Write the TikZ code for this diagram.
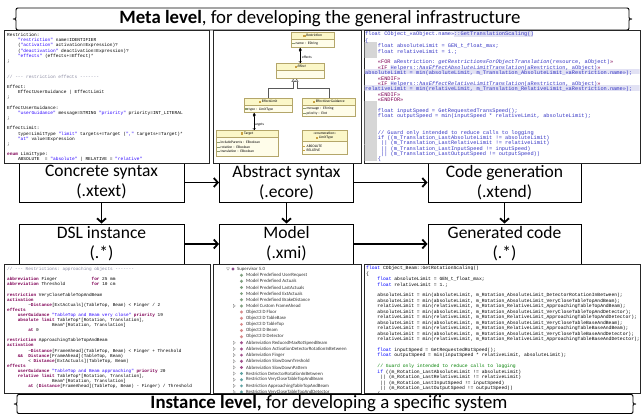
\documentclass[tikz,border=0pt]{standalone}
\usepackage{fontspec}
\setmainfont{Carlito}
\setmonofont{Liberation Mono}
\usepackage{xcolor}
\usepackage{tikz}
\usetikzlibrary{calc,positioning}
\usetikzlibrary{arrows.meta}

\definecolor{kwpurple}{HTML}{7F0055}
\definecolor{strblue}{HTML}{2A00FF}
\definecolor{cmtgray}{HTML}{8A8AA2}
\definecolor{xtdblue}{HTML}{3434C4}
\definecolor{cppblue}{HTML}{0000FF}
\definecolor{cppgreen}{HTML}{008000}
\definecolor{gutter}{HTML}{D6D6D6}
\definecolor{hilite}{HTML}{E2E2F4}
\definecolor{clsline}{HTML}{B4A66A}
\definecolor{clshead}{HTML}{FBF7C8}
\definecolor{clsbody}{HTML}{FFFDEA}
\definecolor{clsicn}{HTML}{C8A040}
\definecolor{atticn}{HTML}{8C9C70}
\definecolor{mdlc}{HTML}{7FA07F}
\definecolor{objc}{HTML}{D88A8A}
\definecolor{abbc}{HTML}{A0508C}
\definecolor{resc}{HTML}{5FA3A3}
\definecolor{supc}{HTML}{8A4A8A}

\newcommand\cind[1]{\hspace*{\dimexpr0.6em*#1\relax}}
\newcommand\xkw[1]{\textcolor{kwpurple}{#1}}
\newcommand\xkb[1]{\textcolor{kwpurple}{\bfseries #1}}
\newcommand\xstr[1]{\textcolor{strblue}{#1}}
\newcommand\xcmt[1]{\textcolor{cmtgray}{#1}}
\newcommand\cppk[1]{\textcolor{cppblue}{#1}}
\newcommand\cppc[1]{\textcolor{cppgreen}{#1}}
\newcommand\clsico{\textcolor{clsicn}{\rule[-0.3pt]{2.2pt}{2.4pt}}\hspace{0.8pt}}
\newcommand\attico{\textcolor{atticn}{\rule[0.5pt]{2.4pt}{1.1pt}}\hspace{1pt}}
\newcommand\litico{\textcolor{clsicn}{\rule[0.9pt]{2pt}{0.5pt}}\hspace{1.5pt}}
\newcommand\ecfont{\fontsize{3.6}{4.5}\selectfont}

\tikzset{
  lvlbox/.style={draw, line width=1pt, fill=white, inner sep=0pt, align=center,
    font=\fontsize{17.5}{20}\selectfont},
  flow/.style={line width=1.8pt, -{Straight Barb[length=4pt,width=9pt]}},
  banner/.style={draw, line width=0.9pt, fill=white},
  bannertxt/.style={font=\fontsize{18.8}{21}\selectfont, inner sep=0pt},
  panel/.style={draw=black!85, line width=0.8pt, fill=white, inner sep=0pt, anchor=north west},
  codetxt/.style={anchor=north west, inner sep=0pt, align=left},
  clshd/.style={draw=clsline, fill=clshead, line width=0.4pt, inner sep=0.5pt,
    minimum height=7pt, anchor=north west, font=\ecfont},
  clsbd/.style={draw=clsline, fill=clsbody, line width=0.4pt, inner xsep=1pt,
    inner ysep=0.6pt, align=left, font=\ecfont},
  comp/.style={line width=0.35pt, {Diamond[length=4.5pt,width=2.8pt]}-{Straight Barb[length=1.6pt,width=2.8pt]}},
  inh/.style={line width=0.35pt, draw=black!65, -{Triangle[open,length=3pt,width=3.4pt]}},
  elbl/.style={font=\ecfont, inner sep=0.3pt},
  treetxt/.style={anchor=west, inner sep=0pt, font=\fontsize{4.8}{5}\selectfont, text=black!80},
  exptri/.style={draw=black!45, line width=0.3pt}
}

\begin{document}
\begin{tikzpicture}[x=1pt, y=-1pt]
  \useasboundingbox (0,0) rectangle (641,415);
  % 上下两条横幅
  \draw[banner] (20,8) -- (625,8) .. controls (629,8) .. (629,12) -- (629,17)
    .. controls (629,19) .. (632,19) .. controls (629,19) .. (629,21) -- (629,26)
    .. controls (629,30) .. (625,30) -- (20,30) .. controls (16,30) .. (16,26) -- (16,21)
    .. controls (16,19) .. (13,19) .. controls (16,19) .. (16,17) -- (16,12)
    .. controls (16,8) .. (20,8) -- cycle;
  \node[bannertxt] (meta) at (320,19)
    {\textbf{Meta level}, for developing the general infrastructure};
  \draw[banner] (21,394.5) -- (629,394.5) .. controls (633,394.5) .. (633,398.5) -- (633,402)
    .. controls (633,404) .. (636,404) .. controls (633,404) .. (633,406) -- (633,409.5)
    .. controls (633,413.5) .. (629,413.5) -- (21,413.5) .. controls (17,413.5) .. (17,409.5) -- (17,406)
    .. controls (17,404) .. (14,404) .. controls (17,404) .. (17,402) -- (17,398.5)
    .. controls (17,394.5) .. (21,394.5) -- cycle;
  \node[bannertxt] (inst) at (329,404)
    {\textbf{Instance level,} for developing a specific system};

  % 六个框与箭头
  \node[lvlbox, minimum width=165pt, minimum height=39pt] (cs) at (101.5,182.5) {Concrete syntax\\(.xtext)};
  \node[lvlbox, minimum width=134pt, minimum height=39pt] (as) at (286.5,182.5) {Abstract syntax\\(.ecore)};
  \node[lvlbox, minimum width=153pt, minimum height=39pt] (cg) at (504.5,182.5) {Code generation\\(.xtend)};
  \node[lvlbox, minimum width=165pt, minimum height=40pt] (di) at (101.5,244) {DSL instance\\(.*)};
  \node[lvlbox, minimum width=134pt, minimum height=40pt] (mo) at (286.5,244) {Model\\(.xmi)};
  \node[lvlbox, minimum width=153pt, minimum height=40pt] (gc) at (504.5,244) {Generated code\\(.*)};
  \draw[flow] (cs) -- (as);
  \draw[flow] (as) -- (cg);
  \draw[flow] (di) -- (mo);
  \draw[flow] (mo) -- (gc);
  \foreach \a/\b in {cs/di, as/mo, cg/gc} \draw[flow] (\a) -- (\b);

  % 截图面板
  \node[panel, minimum width=205pt, minimum height=133pt] (pxtext) at (4,30) {};
  \node[panel, minimum width=148pt, minimum height=133pt] (pecore) at (213,30) {};
  \node[panel, minimum width=276pt, minimum height=133pt] (pxtend) at (364,30) {};
  \node[panel, minimum width=206pt, minimum height=129pt] (pdsl) at (4,264) {};
  \node[panel, minimum width=148pt, minimum height=129pt] (pxmi) at (213,264) {};
  \node[panel, minimum width=276pt, minimum height=129pt] (pcpp) at (364,264) {};

  % xtext 文法
  \begin{scope}
    \clip (4.5,30.5) rectangle (208.5,162.5);
    \node[codetxt, font=\ttfamily\fontsize{4.5}{5.18}\selectfont] (gram) at (7,32.8) {\strut Restriction:\\
\cind{4}\xstr{"restriction"} name=IDENTIFIER\\
\cind{4}(\xstr{"activation"} activation=Expression)?\\
\cind{4}(\xstr{"deactivation"} deactivation=Expression)?\\
\cind{4}\xstr{"effects"} (effects+=Effect)*\\
;\\ ~\\ ~\\
\xcmt{// --- restriction effects -------}\\
~\\
Effect:\\
\cind{4}EffectUserGuidance | EffectLimit\\
;\\ ~\\
EffectUserGuidance:\\
\cind{4}\xstr{"userGuidance"} message=STRING \xstr{"priority"} priority=INT\_LITERAL\\
;\\ ~\\
EffectLimit:\\
\cind{4}type=LimitType \xstr{"limit"} targets+=Target (\xstr{","} targets+=Target)*\\
\cind{4}\xstr{"at"} value=Expression\\
;\\ ~\\
\xkb{enum} LimitType:\\
\cind{4}ABSOLUTE~~= \xstr{"absolute"} | RELATIVE = \xstr{"relative"}};
  \end{scope}

  % ecore 类图
  \node[clshd, minimum width=43pt] (rsh) at (291,32) {\clsico Restriction};
  \node[clsbd, minimum width=43pt, text width=41pt, minimum height=8pt, below=0pt of rsh] (rsb) {\attico name : EString};
  \node[clshd, minimum width=48pt] (efh) at (276,63) {\clsico\textit{Effect}};
  \node[clsbd, minimum width=48pt, text width=46pt, minimum height=8pt, below=0pt of efh] (efb) {};
  \node[clshd, minimum width=48pt] (elh) at (244,98) {\clsico EffectLimit};
  \node[clsbd, minimum width=48pt, text width=46pt, minimum height=7pt, below=0pt of elh] (elb) {\attico type : LimitType};
  \node[clshd, minimum width=53pt] (egh) at (302,98) {\clsico EffectUserGuidance};
  \node[clsbd, minimum width=53pt, text width=51pt, minimum height=11pt, below=0pt of egh] (egb) {\attico message : EString\\\attico priority : EInt};
  \node[clshd, minimum width=62pt] (tgh) at (216,130) {\clsico Target};
  \node[clsbd, minimum width=62pt, text width=60pt, minimum height=19pt, below=0pt of tgh] (tgb)
    {\attico includeParents : EBoolean\\\attico rotation : EBoolean\\\attico translation : EBoolean};
  \node[clshd, minimum width=45pt, minimum height=11pt, align=center] (lth) at (302,130) {«enumeration»\\\clsico LimitType};
  \node[clsbd, minimum width=45pt, text width=43pt, minimum height=13pt, below=0pt of lth] (ltb) {\litico ABSOLUTE\\\litico RELATIVE};
  \draw[comp] (rsb.south -| efh.north) -- (efh.north);
  \node[elbl] (lbeff) at (307,57) {effects};
  \draw[inh] (elh.north) -- ++(0,-10) -| ($(efb.south)+(-7,0)$);
  \draw[inh] (egh.north) -- ++(0,-10) -| ($(efb.south)+(-3.5,0)$);
  \coordinate (tgtop) at ($(elb.south)+(-14,0)$);
  \draw[comp] (tgtop) -- (tgtop |- tgh.north);
  \node[elbl] (lbtgt) at (259,125) {targets};

  % xtend 模板
  \begin{scope}
    \clip (364.5,30.5) rectangle (639.5,162.5);
    \foreach \i in {3,4,5,14,15,16,17,18,19,20,21,22,23,24}
      \fill[gutter] (364,{34+5.39*(\i-1)-2.7}) rectangle (377,{34+5.39*(\i-1)+2.7});
    \fill[hilite] (454,31.3) rectangle (533,36.7);
    \fill[hilite] (364,69) rectangle (640,74.4);
    \fill[hilite] (364,85.2) rectangle (640,90.6);
    \node[codetxt, text=xtdblue, font=\ttfamily\fontsize{5.3}{5.39}\selectfont] (tmpl) at (365,31.9) {\strut float CObject\_«aObject.name»::GetTranslationScaling()\\
\{\\
\cind{4}float absoluteLimit = GEN\_t\_float\_max;\\
\cind{4}float relativeLimit = 1.;\\
~\\
\cind{4}\xkw{«FOR} aRestriction: \textit{getRestrictionsForObjectTranslation}(resource, aObject)\xkw{»}\\
\cind{4}\xkw{«IF} Helpers::\textit{hasEffectAbsoluteLimitTranslation}(aRestriction, aObject)\xkw{»}\\
absoluteLimit = min(absoluteLimit, m\_Translation\_AbsoluteLimit\_«aRestriction.name»);\\
\cind{4}\xkw{«ENDIF»}\\
\cind{4}\xkw{«IF} Helpers::\textit{hasEffectRelativeLimitTranslation}(aRestriction, aObject)\xkw{»}\\
relativeLimit = min(relativeLimit, m\_Translation\_RelativeLimit\_«aRestriction.name»);\\
\cind{4}\xkw{«ENDIF»}\\
\cind{4}\xkw{«ENDFOR»}\\
~\\
\cind{4}float inputSpeed = GetRequestedTransSpeed();\\
\cind{4}float outputSpeed = min(inputSpeed * relativeLimit, absoluteLimit);\\
~\\ ~\\
\cind{4}// Guard only intended to reduce calls to logging\\
\cind{4}if ((m\_Translation\_LastAbsoluteLimit != absoluteLimit)\\
\cind{5}|| (m\_Translation\_LastRelativeLimit != relativeLimit)\\
\cind{5}|| (m\_Translation\_LastInputSpeed != inputSpeed)\\
\cind{5}|| (m\_Translation\_LastOutputSpeed != outputSpeed))\\
\cind{4}\{};
  \end{scope}

  % DSL 实例
  \begin{scope}
    \clip (4.5,264.5) rectangle (209.5,392.5);
    \node[codetxt, font=\ttfamily\fontsize{4.4}{5.09}\selectfont] (dslsrc) at (7,266.8) {\strut\xcmt{// --- Restrictions: approaching objects -------}\\
~\\
\xkb{abbreviation} Finger\cind{13}\xkb{for} 25 mm\\
\xkb{abbreviation} Threshold\cind{10}\xkb{for} 10 cm\\
~\\
\xkb{restriction} VeryCloseTableTopAndBeam\\
\xkb{activation}\\
\cind{8}\textasciitilde\xkb{Distance}[ExtActuals](TableTop, Beam) < Finger / 2\\
\xkb{effects}\\
\cind{4}\xkb{userGuidance} \xstr{"TableTop and Beam very close"} \xkb{priority} 19\\
\cind{4}\xkb{absolute limit} TableTop*[Rotation, Translation],\\
\cind{17}Beam*[Rotation, Translation]\\
\cind{8}\xkb{at} 0\\
~\\
\xkb{restriction} ApproachingTableTopAndBeam\\
\xkb{activation}\\
\cind{8}\textasciitilde\xkb{Distance}[FrameAhead](TableTop, Beam) < Finger + Threshold\\
\cind{4}\xkb{\&\&}~~\xkb{Distance}[FrameAhead](TableTop, Beam)\\
\cind{8}< \xkb{Distance}[ExtActuals](TableTop, Beam)\\
\xkb{effects}\\
\cind{4}\xkb{userGuidance} \xstr{"TableTop and Beam approaching"} \xkb{priority} 20\\
\cind{4}\xkb{relative limit} TableTop*[Rotation, Translation],\\
\cind{17}Beam*[Rotation, Translation]\\
\cind{8}\xkb{at} (\xkb{Distance}[FrameAhead](TableTop, Beam) - Finger) / Threshold};
  \end{scope}

  % xmi 模型树
  \begin{scope}
    \clip (213.5,264.5) rectangle (360.5,392.5);
    \draw[exptri] (226.5,267.8) -- (229.5,267.8) -- (228,270.2) -- cycle;
    \fill[supc] (233,269) +(-1.6,0) -- +(0,-1.6) -- +(1.6,0) -- +(0,1.6) -- cycle;
    \node[treetxt] (sup) at (237,269) {Supervisor 5.0};
    \foreach \k/\cl/\e/\txt in {1/mdlc/0/Model Predefined UserRequest, 2/mdlc/0/Model Predefined Actuals,
        3/mdlc/0/Model Predefined LastActuals, 4/mdlc/0/Model Predefined ExtActuals,
        5/mdlc/0/Model Predefined BrakeDistance, 6/mdlc/1/Model Custom FrameAhead,
        7/objc/0/Object3 D Floor, 8/objc/0/Object3 D TableBase, 9/objc/0/Object3 D TableTop,
        10/objc/0/Object3 D Beam, 11/objc/0/Object3 D Detector,
        12/abbc/1/Abbreviation ReducedMaxRotSpeedBeam, 13/abbc/1/Abbreviation ActivationDetectorRotationInBetween,
        14/abbc/1/Abbreviation Finger, 15/abbc/1/Abbreviation SlowDownTreshold, 16/abbc/1/Abbreviation SlowDownPattern,
        17/resc/1/Restriction DetectorRotationInBetween, 18/resc/1/Restriction VeryCloseTableTopAndBeam,
        19/resc/1/Restriction ApproachingTableTopAndBeam, 20/resc/1/Restriction VeryCloseTableTopAndDetector}{
      \pgfmathsetmacro\yy{269+6.15*\k}
      \ifnum\e=1 \draw[exptri] (233.2,\yy-1.7) -- (235.4,\yy) -- (233.2,\yy+1.7) -- cycle; \fi
      \fill[fill=\cl] (241.5,\yy) +(-1.6,0) -- +(0,-1.6) -- +(1.6,0) -- +(0,1.6) -- cycle;
      \node[treetxt] (row\k) at (246,\yy) {\txt};
    }
  \end{scope}

  % 生成的 C++ 代码
  \begin{scope}
    \clip (364.5,264.5) rectangle (639.5,392.5);
    \node[codetxt, font=\ttfamily\fontsize{4.7}{5.45}\selectfont] (cppsrc) at (366,265.7) {\strut\cppk{float} CObject\_Beam::GetRotationScaling()\\
\{\\
\cind{4}\cppk{float} absoluteLimit = GEN\_t\_float\_max;\\
\cind{4}\cppk{float} relativeLimit = 1.;\\
~\\
\cind{4}absoluteLimit = min(absoluteLimit, m\_Rotation\_AbsoluteLimit\_DetectorRotationInBetween);\\
\cind{4}absoluteLimit = min(absoluteLimit, m\_Rotation\_AbsoluteLimit\_VeryCloseTableTopAndBeam);\\
\cind{4}relativeLimit = min(relativeLimit, m\_Rotation\_RelativeLimit\_ApproachingTableTopAndBeam);\\
\cind{4}absoluteLimit = min(absoluteLimit, m\_Rotation\_AbsoluteLimit\_VeryCloseTableTopAndDetector);\\
\cind{4}relativeLimit = min(relativeLimit, m\_Rotation\_RelativeLimit\_ApproachingTableTopAndDetector);\\
\cind{4}absoluteLimit = min(absoluteLimit, m\_Rotation\_AbsoluteLimit\_VeryCloseTableBaseAndBeam);\\
\cind{4}relativeLimit = min(relativeLimit, m\_Rotation\_RelativeLimit\_ApproachingTableBaseAndBeam);\\
\cind{4}absoluteLimit = min(absoluteLimit, m\_Rotation\_AbsoluteLimit\_VeryCloseTableBaseAndDetector);\\
\cind{4}relativeLimit = min(relativeLimit, m\_Rotation\_RelativeLimit\_ApproachingTableBaseAndDetector);\\
~\\
\cind{4}\cppk{float} inputSpeed = GetRequestedRotSpeed();\\
\cind{4}\cppk{float} outputSpeed = min(inputSpeed * relativeLimit, absoluteLimit);\\
~\\
\cind{4}\cppc{// Guard only intended to reduce calls to logging}\\
\cind{4}\cppk{if} ((m\_Rotation\_LastAbsoluteLimit != absoluteLimit)\\
\cind{5}|| (m\_Rotation\_LastRelativeLimit != relativeLimit)\\
\cind{5}|| (m\_Rotation\_LastInputSpeed != inputSpeed)\\
\cind{5}|| (m\_Rotation\_LastOutputSpeed != outputSpeed))\\
\cind{4}\{};
  \end{scope}
\end{tikzpicture}
\end{document}
